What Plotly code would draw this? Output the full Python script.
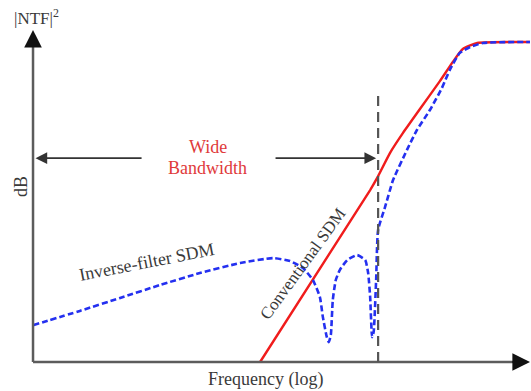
import plotly.graph_objects as go

# Frequency (log, arbitrary units 0-100) and |NTF|^2 (dB, arbitrary units 0-100)
inv_freq = [0, 9.4, 17.5, 25.5, 33.5, 41.6, 48.2, 51.6, 54.2, 56.2, 57.6, 58.2, 59.0, 59.4,
            59.8, 60.2, 60.8, 61.6, 63.1, 65.1, 66.7, 67.3, 67.7, 68.1, 68.4, 68.9, 69.3,
            70.7, 72.3, 75.1, 77.1, 79.7, 82.1, 83.7, 85.7, 87.8, 90.4, 99.8]
inv_db = [11.1, 15.4, 19.3, 23.2, 26.8, 29.8, 31.3, 30.4, 28.3, 24.7, 19.6, 13.6, 7.5, 6.0,
          8.1, 18.7, 24.7, 27.7, 30.7, 32.2, 30.7, 26.8, 19.6, 7.5, 9.0, 24.7, 39.8,
          46.7, 54.8, 63.9, 69.9, 75.9, 82.5, 88.0, 93.1, 94.9, 96.1, 96.4]

conv_freq = [45.6, 67.7, 69.3, 71.7, 74.3, 77.7, 81.7, 84.3, 86.3, 89.2, 99.8]
conv_db = [0.0, 51.8, 56.0, 63.0, 69.0, 76.2, 84.6, 90.4, 94.3, 96.1, 96.4]

band_edge = 69.3      # end of the wide bandwidth
band_edge_top = 81.3
band_arrow_y = 61.4

SERIF = "Liberation Serif, Times New Roman, serif"
AX = "#5c5c5c"
TXT = "#3a3a3a"

fig = go.Figure()
fig.add_trace(go.Scatter(x=conv_freq, y=conv_db, mode="lines", line_shape="spline",
                         line=dict(color="#f01c1c", width=2.4, smoothing=0.5), hoverinfo="skip"))
fig.add_trace(go.Scatter(x=inv_freq, y=inv_db, mode="lines", line_shape="spline",
                         line=dict(color="#2430f0", width=2.6, dash="6px,3px", smoothing=0.5),
                         hoverinfo="skip"))

# axes lines
fig.add_shape(type="line", x0=0, y0=0, x1=0, y1=97, line=dict(color=AX, width=2.5))
fig.add_shape(type="line", x0=0, y0=0, x1=97, y1=0, line=dict(color=AX, width=2.5))
# bandwidth dashed marker
fig.add_shape(type="line", x0=band_edge, y0=0, x1=band_edge, y1=band_edge_top,
              line=dict(color="#555555", width=2.2, dash="10px,6px"))

ann = []
# arrowheads for axes
ann.append(dict(x=0, y=100, ax=0, ay=95, xref="x", yref="y", axref="x", ayref="y",
                text="", showarrow=True, arrowhead=2, arrowsize=1.6, arrowwidth=2.2,
                arrowcolor="#111111"))
ann.append(dict(x=99.8, y=0, ax=96, ay=0, xref="x", yref="y", axref="x", ayref="y",
                text="", showarrow=True, arrowhead=2, arrowsize=1.6, arrowwidth=2.2,
                arrowcolor="#111111"))
# wide bandwidth double arrow
ann.append(dict(x=0.5, y=band_arrow_y, ax=22.1, ay=band_arrow_y, xref="x", yref="y",
                axref="x", ayref="y", text="", showarrow=True, arrowhead=2, arrowsize=1.3,
                arrowwidth=1.8, arrowcolor="#333333"))
ann.append(dict(x=68.9, y=band_arrow_y, ax=48.4, ay=band_arrow_y, xref="x", yref="y",
                axref="x", ayref="y", text="", showarrow=True, arrowhead=2, arrowsize=1.3,
                arrowwidth=1.8, arrowcolor="#333333"))

def txt(x, y, s, size, color=TXT, angle=0):
    ann.append(dict(x=x, y=y, xref="x", yref="y", text=s, showarrow=False, textangle=angle,
                    font=dict(family=SERIF, size=size, color=color),
                    xanchor="center", yanchor="middle"))

txt(35.1, 64.8, "Wide", 18, "#e03a3a")
txt(35.1, 58.4, "Bandwidth", 18, "#e03a3a")
txt(22.8, 30.1, "Inverse-filter SDM", 18, TXT, -11)
txt(54.2, 29.8, "Conventional SDM", 17, TXT, -54)
txt(0.6, 104.0, "|NTF|<sup>2</sup>", 17, TXT)
txt(-2.4, 52.7, "dB", 18, TXT, -90)
txt(46.6, -5.4, "Frequency (log)", 18, TXT)

fig.update_layout(
    width=531, height=391, margin=dict(l=0, r=0, t=0, b=0),
    paper_bgcolor="white", plot_bgcolor="white", showlegend=False,
    xaxis=dict(range=[-6.63, 100], visible=False, fixedrange=True),
    yaxis=dict(range=[-8.73, 109.04], visible=False, fixedrange=True),
    annotations=ann,
)
fig.write_html("out.html", config={"displayModeBar": False},
               post_script="document.body.style.margin='0';document.body.style.overflow='hidden';")
